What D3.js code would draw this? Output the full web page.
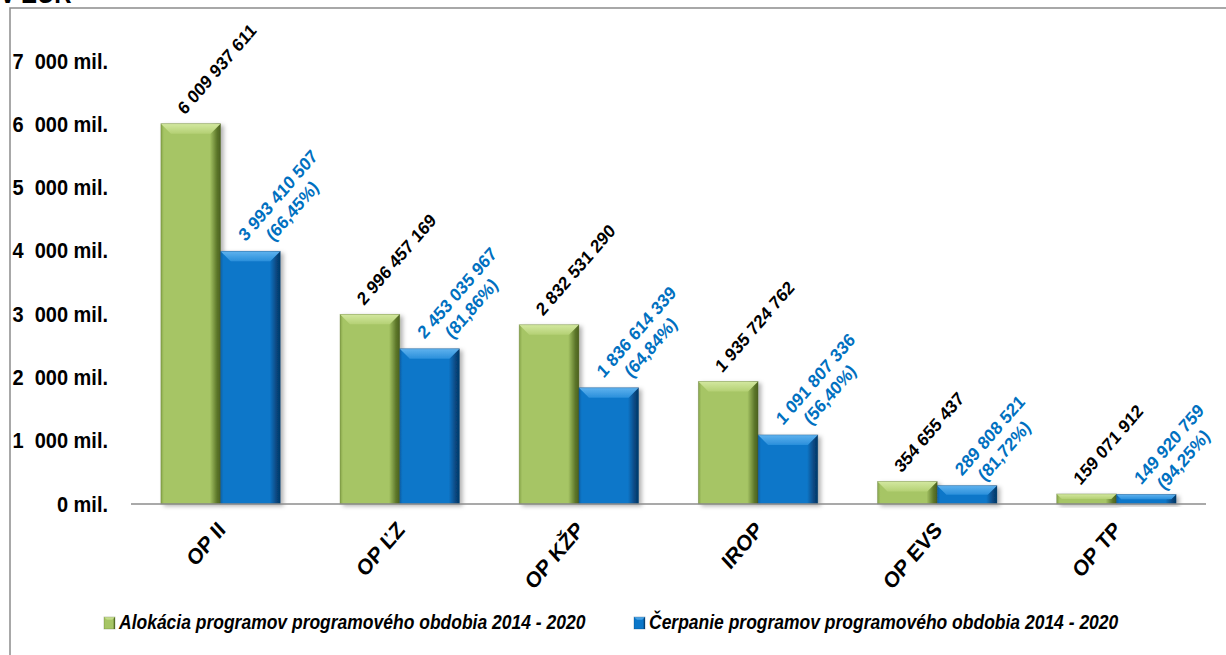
<!DOCTYPE html>
<html>
<head>
<meta charset="utf-8">
<script src="https://cdn.jsdelivr.net/npm/d3@7"></script>
<style>
  html, body { margin: 0; padding: 0; background: #fff; overflow: hidden; }
  svg { display: block; font-family: "Liberation Sans", Arial, sans-serif; }
  text { white-space: pre; }
</style>
</head>
<body>
<svg id="chart" width="1226" height="655"></svg>
<script>
// Data (EUR)
const categories = ["OP II", "OP ĽZ", "OP KŽP", "IROP", "OP EVS", "OP TP"];
const allocation = [6009937611, 2996457169, 2832531290, 1935724762, 354655437, 159071912];
const drawing = [3993410507, 2453035967, 1836614339, 1091807336, 289808521, 149920759];
const drawingShare = ["66,45%", "81,86%", "64,84%", "56,40%", "81,72%", "94,25%"];
const yTicks = [0, 1e9, 2e9, 3e9, 4e9, 5e9, 6e9, 7e9];
const yTickLabels = ["0 mil.", "1  000 mil.", "2  000 mil.", "3  000 mil.", "4  000 mil.",
                     "5  000 mil.", "6  000 mil.", "7  000 mil."];
const seriesNames = ["Alokácia programov programového obdobia 2014 - 2020",
                     "Čerpanie programov programového obdobia 2014 - 2020"];

// the original picture is a bit stretched vertically, mimic that on the texts
const STRETCH = 1.12;

const svg = d3.select("#chart");
const defs = svg.append("defs");

const palettes = {
    green: { face: "#a6c565", edgeL: "#86a449", edgeR: "#5c7629", top: ["#d3e8a0", "#b4d074"], shadow: "#4b6020" },
    blue:  { face: "#0b77c9", edgeL: "#0a62a8", edgeR: "#07457c", top: ["#5fb2ee", "#2a8fdb"], shadow: "#053a6a" }
};

Object.entries(palettes).forEach(([key, p]) => {
    const gh = defs.append("linearGradient").attr("id", "face-" + key);
    gh.append("stop").attr("offset", "0%").attr("stop-color", p.edgeL);
    gh.append("stop").attr("offset", "5%").attr("stop-color", p.face);
    gh.append("stop").attr("offset", "82%").attr("stop-color", p.face);
    gh.append("stop").attr("offset", "94%").attr("stop-color", p.edgeR);
    gh.append("stop").attr("offset", "100%").attr("stop-color", p.shadow);
    const gt = defs.append("linearGradient").attr("id", "top-" + key)
        .attr("x1", 0).attr("y1", 0).attr("x2", 0).attr("y2", 1);
    gt.append("stop").attr("offset", "0%").attr("stop-color", p.top[0]);
    gt.append("stop").attr("offset", "100%").attr("stop-color", p.top[1]);
});

const shadow = defs.append("filter").attr("id", "shadow")
    .attr("x", "-20%").attr("y", "-20%").attr("width", "150%").attr("height", "150%");
shadow.append("feDropShadow").attr("dx", 3).attr("dy", 2).attr("stdDeviation", 2)
    .attr("flood-color", "#000").attr("flood-opacity", 0.3);

// frame + title (cut by the top edge, like in the original)
svg.append("rect").attr("x", 10).attr("y", 8).attr("width", 1400).attr("height", 800)
    .attr("fill", "#fff").attr("stroke", "#8c8c8c").attr("stroke-width", 1.5);
stretchedText(svg, 1, 3, 0, "v EUR").attr("font-size", 24).attr("font-weight", "bold");

// scales
const x = d3.scaleBand().domain(categories).range([131, 1206]).paddingInner(1 / 3).paddingOuter(1 / 6);
const xs = d3.scaleBand().domain([0, 1]).range([0, x.bandwidth()]);
const y = d3.scaleLinear().domain([0, 7e9]).range([504, 61]);

const fmt = d3.formatLocale({ decimal: ",", thousands: " ", grouping: [3], currency: ["", " €"] }).format(",d");

// y axis labels (no axis line in the original)
const yAxis = svg.append("g").call(d3.axisLeft(y).tickValues(yTicks).tickSize(0)
        .tickFormat((d, i) => yTickLabels[i]));
yAxis.select(".domain").remove();
yAxis.selectAll(".tick text").remove();
yAxis.selectAll(".tick").each(function (d, i) {
    stretchedText(d3.select(this), 108, 7, 0, yTickLabels[i])
        .attr("text-anchor", "end").attr("font-size", 20).attr("font-weight", "bold").attr("fill", "#000");
});

// bars
const series = [
    { values: allocation, pal: "green" },
    { values: drawing, pal: "blue" }
];

const groups = svg.selectAll("g.cat").data(categories).join("g")
    .attr("class", "cat")
    .attr("transform", d => `translate(${x(d)},0)`);

series.forEach((s, si) => {
    groups.each(function (cat, ci) {
        const v = s.values[ci];
        bevelBar(d3.select(this), xs(si), y(v), xs.bandwidth(), y(0) - y(v), s.pal);
    });
});

// baseline
svg.append("line").attr("x1", x.range()[0]).attr("x2", x.range()[1])
    .attr("y1", y(0)).attr("y2", y(0)).attr("stroke", "#8c8c8c").attr("stroke-width", 1.5);

// value labels
categories.forEach((cat, i) => {
    const cx0 = x(cat) + xs(0) + xs.bandwidth() / 2;
    const cx1 = x(cat) + xs(1) + xs.bandwidth() / 2;

    stretchedText(svg, cx0 - 6, y(allocation[i]) - 8, -46, fmt(allocation[i]))
        .attr("font-size", 16.5).attr("font-weight", "bold").attr("fill", "#000");

    const lbl = stretchedText(svg, cx1 - 5, y(drawing[i]) - 9, -46, "")
        .attr("font-size", 16.5).attr("font-weight", "bold").attr("fill", "#0070c0");
    const l1 = lbl.append("tspan").attr("x", 0).attr("y", 0).text(fmt(drawing[i]));
    const l2 = lbl.append("tspan").attr("y", 20).text("(" + drawingShare[i] + ")");
    const w1 = l1.node().getComputedTextLength();
    const w2 = l2.node().getComputedTextLength();
    l2.attr("x", (w1 - w2) / 2);
});

// category labels
categories.forEach(cat => {
    stretchedText(svg, x(cat) + x.bandwidth() / 2 + 6, 531, -46, cat)
        .attr("text-anchor", "end").attr("font-size", 20).attr("font-weight", "bold").attr("fill", "#000");
});

// legend
const legendItems = [
    { name: seriesNames[0], pal: "green", x: 104 },
    { name: seriesNames[1], pal: "blue", x: 634 }
];
legendItems.forEach(it => {
    bevelBar(svg, it.x, 617, 11, 12, it.pal, 3, false);
    stretchedText(svg, it.x + 15, 629, 0, it.name)
        .attr("font-size", 17.5).attr("font-weight", "bold").attr("font-style", "italic").attr("fill", "#000");
});

function stretchedText(parent, tx, ty, angle, str) {
    const g = parent.append("g")
        .attr("transform", `translate(${tx},${ty}) scale(1,${STRETCH}) rotate(${angle})`);
    return g.append("text").attr("x", 0).attr("y", 0).text(str);
}

function bevelBar(parent, bx, by, w, h, pal, bevel = 10, withShadow = true) {
    const b = Math.min(bevel, h / 2, w / 2);
    const g = parent.append("g");
    if (withShadow) g.attr("filter", "url(#shadow)");
    g.append("rect").attr("x", bx).attr("y", by).attr("width", w).attr("height", h)
        .attr("fill", "url(#face-" + pal + ")");
    g.append("polygon")
        .attr("points", [[bx, by], [bx + w, by], [bx + w - b, by + b], [bx + b, by + b]].join(" "))
        .attr("fill", "url(#top-" + pal + ")");
    g.append("rect").attr("x", bx).attr("y", by).attr("width", w).attr("height", h)
        .attr("fill", "none").attr("stroke", palettes[pal].shadow)
        .attr("stroke-opacity", 0.35).attr("stroke-width", 0.8);
}
</script>
</body>
</html>
